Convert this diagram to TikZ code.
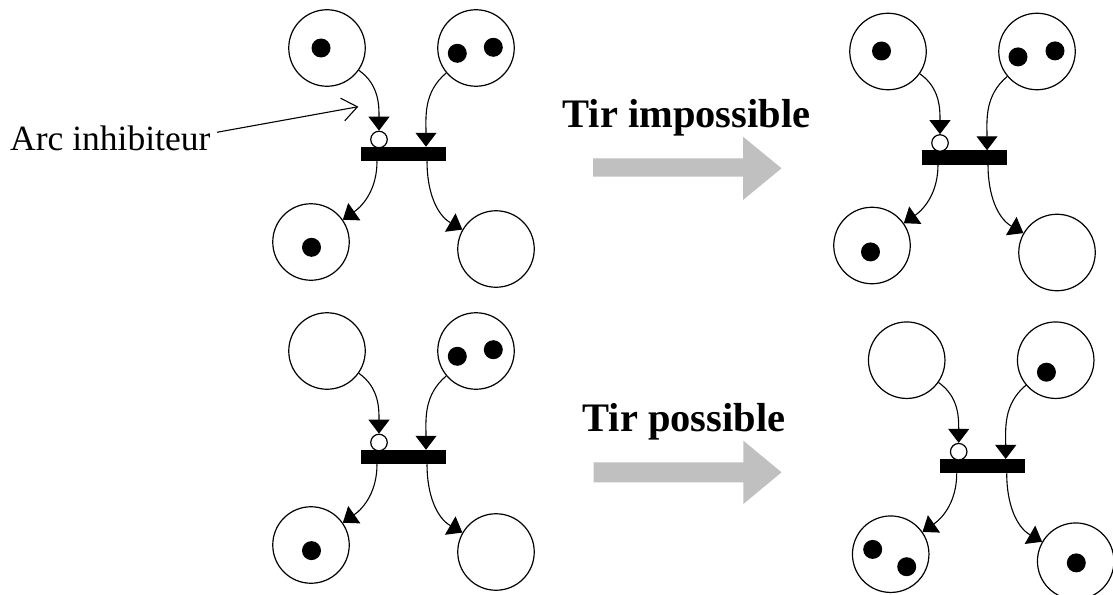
\documentclass[tikz,border=0pt]{standalone}
\usepackage{fontspec}
\setmainfont{Liberation Serif}
\usetikzlibrary{arrows.meta,calc}
\definecolor{arrowgray}{RGB}{192,192,192}
\tikzset{
  place/.style={circle,draw,line width=1.2pt,minimum size=76.5pt,inner sep=0pt},
  trans/.style={rectangle,fill=black,minimum width=85pt,minimum height=14.5pt,inner sep=0pt},
  inhib/.style={circle,draw,fill=white,line width=1.2pt,minimum size=16.5pt,inner sep=0pt},
  arc/.style={line width=1.1pt,-{Triangle[width=21pt,length=14pt]}},
  bigarrow/.style={fill=arrowgray},
  lbl/.style={inner sep=0pt,font=\fontsize{35.5}{40}\selectfont},
  tirlbl/.style={inner sep=0pt,anchor=base,font=\fontsize{40.5}{46}\selectfont\bfseries},
}
% #1 prefix, #2 #3 centre of the transition bar
\newcommand\pnet[3]{%
\begin{scope}[shift={(#2,#3)}]
 \node[trans] (#1bar) at (0,0) {};
 \node[place] (#1tl) at (-76,-106) {};
 \node[place] (#1tr) at (73,-106) {};
 \node[place] (#1bl) at (-92,88) {};
 \node[place] (#1br) at (93,95) {};
 \node[inhib] (#1inh) at (-24,-14.5) {};
 \coordinate (#1in) at (23,-7.25);
 \coordinate (#1ol) at (-26,7.25);
 \coordinate (#1or) at (24,7.25);
 \draw[arc] (#1tl) to[out=-35,in=90] (#1inh);
 \draw[arc] (#1tr) to[out=220,in=90] (#1in);
 \draw[arc] (#1ol) to[out=-90,in=35] (#1bl);
 \draw[arc] (#1or) to[out=-90,in=150] (#1br);
\end{scope}}
\newcommand\tok[3]{\fill ([shift={(#2,#3)}]#1.center) circle[radius=9.5pt];}
\begin{document}
\begin{tikzpicture}[x=1pt,y=-1pt]
\useasboundingbox (0,0) rectangle (1113,594);

\pnet{a}{403}{154}
\pnet{b}{964}{157.5}
\pnet{c}{403}{457}
\pnet{d}{982.7}{466.2}

% tokens
\tok{atl}{-6}{0}
\tok{atr}{-18.7}{5.3}\tok{atr}{17.3}{-0.7}
\tok{abl}{0.5}{5.3}

\tok{btl}{-6.5}{-0.5}
\tok{btr}{-19}{5.4}\tok{btr}{18}{-0.6}
\tok{bbl}{-1.5}{6.4}

\tok{ctr}{-18.7}{5.3}\tok{ctr}{17.3}{-1.3}
\tok{cbl}{0.5}{5.6}

\tok{dtr}{-9.3}{12}
\tok{dbl}{-18}{-4.8}\tok{dbl}{16}{12.5}
\tok{dbr}{0.6}{1.7}

% label and pointer
\node[lbl,anchor=base west] (lab) at (10,150) {Arc inhibiteur};
\coordinate (ptr) at (358.3,106.7);
\draw[line width=1.1pt,-{Straight Barb[length=15pt,width=23pt]}] ([xshift=6.5pt,yshift=5.6pt]lab.east) -- (ptr);

% firing labels
\node[tirlbl] (t1) at (686.5,127.7) {Tir impossible};
\node[tirlbl] (t2) at (684,431.3) {Tir possible};

% big grey arrows
\fill[bigarrow] (593,158.3) -- (743,158.3) -- (743,136.7) -- (781.5,168.3) -- (743,200) -- (743,176.7) -- (593,176.7) -- cycle;
\fill[bigarrow] (593.5,462.3) -- (743.4,462.3) -- (743.4,440.7) -- (781.5,472.3) -- (743.4,504) -- (743.4,482.3) -- (593.5,482.3) -- cycle;
\end{tikzpicture}
\end{document}
